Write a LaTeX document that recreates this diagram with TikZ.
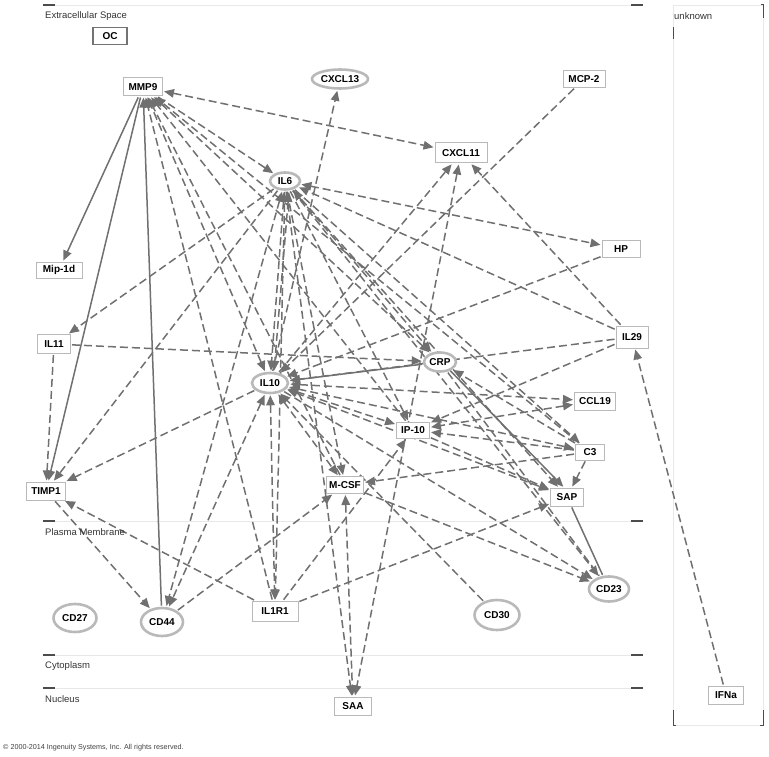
\documentclass[tikz,border=0pt]{standalone}
\usepackage{fontspec}
\setmainfont{Liberation Sans}
\usepackage{tikz}
\usetikzlibrary{shapes, backgrounds}
\usetikzlibrary{arrows, arrows.meta}
\definecolor{linkgray}{RGB}{112,112,112}
\definecolor{rimgray}{RGB}{185,185,185}
\definecolor{zonegray}{RGB}{232,232,232}
\newcommand{\genefont}{\bfseries\fontsize{10}{11}\selectfont}

\begin{document}
\begin{tikzpicture}[x=1pt, y=-1pt, >={Triangle[length=10pt, width=8.5pt]},
	gene/.style={draw=rimgray, fill=white, rectangle, line width=1pt, inner sep=2pt, font=\genefont},
	cyto/.style={draw=rimgray, fill=white, ellipse, line width=2.6pt, inner sep=0pt, font=\genefont},
	link/.style={draw=linkgray, line width=1.5pt, dash pattern=on 8pt off 4pt, shorten >=1pt, shorten <=1pt},
	bond/.style={draw=linkgray, line width=1.5pt, shorten >=1pt, shorten <=1pt},
	zone/.style={draw=zonegray, line width=0.8pt},
	tick/.style={draw=black!70, line width=1.3pt},
	zonelabel/.style={anchor=west, inner sep=0pt, font=\fontsize{9.5}{11}\selectfont, text=black!80}]
		\useasboundingbox (0,0) rectangle (769,757);
		
		% compartments
		\node[zonelabel] (extra) at (45,16) {Extracellular Space};
		\node[zonelabel] (membrane) at (45,532) {Plasma Membrane};
		\node[zonelabel] (cytoplasm) at (45,666) {Cytoplasm};
		\node[zonelabel] (nucleus) at (45,699) {Nucleus};
		\node[zonelabel] (unknown) at (674,16) {unknown};
		\node[anchor=west, inner sep=0pt, font=\fontsize{7.2}{8}\selectfont, text=black!75] (copy) at (3,748) {\textcopyright{} 2000-2014 Ingenuity Systems, Inc. All rights reserved.};
		
		% molecules
		\node[gene, draw=black!55, line width=1.6pt, minimum width=34pt, minimum height=17pt] (oc) at (110,36) {OC};
		\node[gene, minimum width=39pt, minimum height=18pt] (mmp9) at (143,87) {MMP9};
		\node[cyto, minimum width=56pt, minimum height=19pt] (cxcl13) at (340,79) {CXCL13};
		\node[gene, minimum width=42pt, minimum height=17pt] (mcp2) at (584,79) {MCP-2};
		\node[gene, minimum width=52pt, minimum height=20pt] (cxcl11) at (461,153) {CXCL11};
		\node[cyto, minimum width=30pt, minimum height=17pt] (il6) at (285,181) {IL6};
		\node[gene, minimum width=38pt, minimum height=17pt] (hp) at (621,249) {HP};
		\node[gene, minimum width=46pt, minimum height=16pt] (mip1d) at (59,270) {Mip-1d};
		\node[gene, minimum width=33pt, minimum height=19pt] (il11) at (54,344) {IL11};
		\node[gene, minimum width=32pt, minimum height=22pt] (il29) at (632,337) {IL29};
		\node[cyto, minimum width=32pt, minimum height=19pt] (crp) at (440,362) {CRP};
		\node[cyto, minimum width=36pt, minimum height=20pt] (il10) at (270,383) {IL10};
		\node[gene, minimum width=41pt, minimum height=18pt] (ccl19) at (595,401) {CCL19};
		\node[gene, minimum width=33pt, minimum height=16pt] (ip10) at (413,430) {IP-10};
		\node[gene, minimum width=29pt, minimum height=16pt] (c3) at (590,452) {C3};
		\node[gene, minimum width=39pt, minimum height=18pt] (timp1) at (46,491) {TIMP1};
		\node[gene, minimum width=37pt, minimum height=17pt] (mcsf) at (345,485) {M-CSF};
		\node[gene, minimum width=33pt, minimum height=18pt] (sap) at (567,497) {SAP};
		\node[cyto, minimum width=40pt, minimum height=25pt] (cd23) at (609,589) {CD23};
		\node[cyto, minimum width=43pt, minimum height=28pt] (cd27) at (75,618) {CD27};
		\node[cyto, minimum width=42pt, minimum height=28pt] (cd44) at (162,622) {CD44};
		\node[gene, minimum width=46pt, minimum height=20pt] (il1r1) at (275,611) {IL1R1};
		\node[cyto, minimum width=45pt, minimum height=30pt] (cd30) at (497,615) {CD30};
		\node[gene, minimum width=37pt, minimum height=18pt] (saa) at (353,706) {SAA};
		\node[gene, minimum width=35pt, minimum height=18pt] (ifna) at (726,695) {IFNa};
		
		\begin{scope}[on background layer]
		\draw[zone] (43,5) -- (643,5);
		\draw[zone] (43,521) -- (643,521);
		\draw[zone] (43,655) -- (643,655);
		\draw[zone] (43,688) -- (643,688);
		\foreach \y in {5,521,655,688}
			{\draw[tick] (43,\y) -- (55,\y);
			 \draw[tick] (631,\y) -- (643,\y);}
		\draw[zone] (673,5) rectangle (763,725);
		\draw[tick, line width=1pt] (673,27) -- (673,39);
		\draw[tick, line width=1pt] (761,5) -- (763,5) -- (763,18);
		\draw[tick, line width=1pt] (676,725) -- (673,725) -- (673,710);
		\draw[tick, line width=1pt] (760,725) -- (763,725) -- (763,710);
		
		\draw[bond, ->] (mmp9) -- (mip1d);
		\draw[bond, ->] (mmp9) -- (timp1);
		\draw[bond, ->] (cd44) -- (mmp9);
		\draw[bond, ->] (crp) -- (il10);
		\draw[bond, ->] ([xshift=-3pt]crp.south east) -- ([xshift=-3pt]sap.north);
		\draw[bond] (cd23) -- (sap);
		
		\draw[link, <->] (mmp9) -- (cxcl11);
		\draw[link, ->] (mmp9) -- (il6);
		\draw[link, <->] (il10) -- (mmp9);
		\draw[link, ->] (il1r1) -- (mmp9);
		\draw[link, ->] (mcsf) -- (mmp9);
		\draw[link, <->] (crp) -- (mmp9);
		\draw[link, ->] (ip10) -- (mmp9);
		\draw[link, ->] (c3) -- (mmp9);
		
		\draw[link, <->] (il6) -- (hp);
		\draw[link, ->] (il29) -- (il6);
		\draw[link, ->] (il6) -- (il11);
		\draw[link, ->] (il6) -- (timp1);
		\draw[link, <->] (il6) -- (il10);
		\draw[link, <->] ([xshift=4pt]il6.south) -- ([xshift=4pt]il10.north);
		\draw[link, <->] (il6) -- (cd44);
		\draw[link, ->] (il6) -- (il1r1);
		\draw[link, <->] (il6) -- (crp);
		\draw[link, ->] (il6) -- (mcsf);
		\draw[link, ->] (il6) -- (c3);
		\draw[link, ->] (il6) -- (sap);
		\draw[link, ->] (il6) -- (cd23);
		\draw[link, ->] (il6) -- (saa);
		\draw[link, ->] (il6) -- (ip10);
		
		\draw[link, ->] (il10) -- (timp1);
		\draw[link, <->] (il10) -- (cd44);
		\draw[link, <->] (il10) -- (il1r1);
		\draw[link, ->] (il10) -- (cxcl11);
		\draw[link, ->] (il10) -- (cxcl13);
		\draw[link, ->] (mcp2) -- (il10);
		\draw[link, ->] (hp) -- (il10);
		\draw[link, ->] (il29) -- (il10);
		\draw[link, <->] (il10) -- (ccl19);
		\draw[link, <->] (il10) -- (ip10);
		\draw[link, <->] (il10) -- (c3);
		\draw[link, <->] (il10) -- (sap);
		\draw[link, ->] (il10) -- (cd23);
		\draw[link, ->] (cd30) -- (il10);
		\draw[link, <->] (il10) -- (mcsf);
		
		\draw[link, ->] (il11) -- (crp);
		\draw[link, ->] (il11) -- (timp1);
		\draw[link, ->] (timp1) -- (cd44);
		\draw[link, ->] (il1r1) -- (timp1);
		\draw[link, ->] (il1r1) -- (ip10);
		\draw[link, ->] (il1r1) -- (sap);
		\draw[link, ->] (cd44) -- (mcsf);
		\draw[link, <->] (mcsf) -- (saa);
		\draw[link, <->] (cxcl11) -- (saa);
		\draw[link, ->] (il29) -- (cxcl11);
		\draw[link, ->] (il29) -- (ip10);
		\draw[link, ->] (ifna) -- (il29);
		\draw[link, ->] (c3) -- (ip10);
		\draw[link, ->] (c3) -- (mcsf);
		\draw[link, ->] (c3) -- (sap);
		\draw[link, ->] (c3) -- (crp);
		\draw[link, <->] (ccl19) -- (ip10);
		\draw[link, ->] (ip10) -- (sap);
		\draw[link] (crp) -- (cd23);
		\draw[link, ->] (mcsf) -- (cd23);
		\end{scope}
		\end{tikzpicture}
\end{document}
